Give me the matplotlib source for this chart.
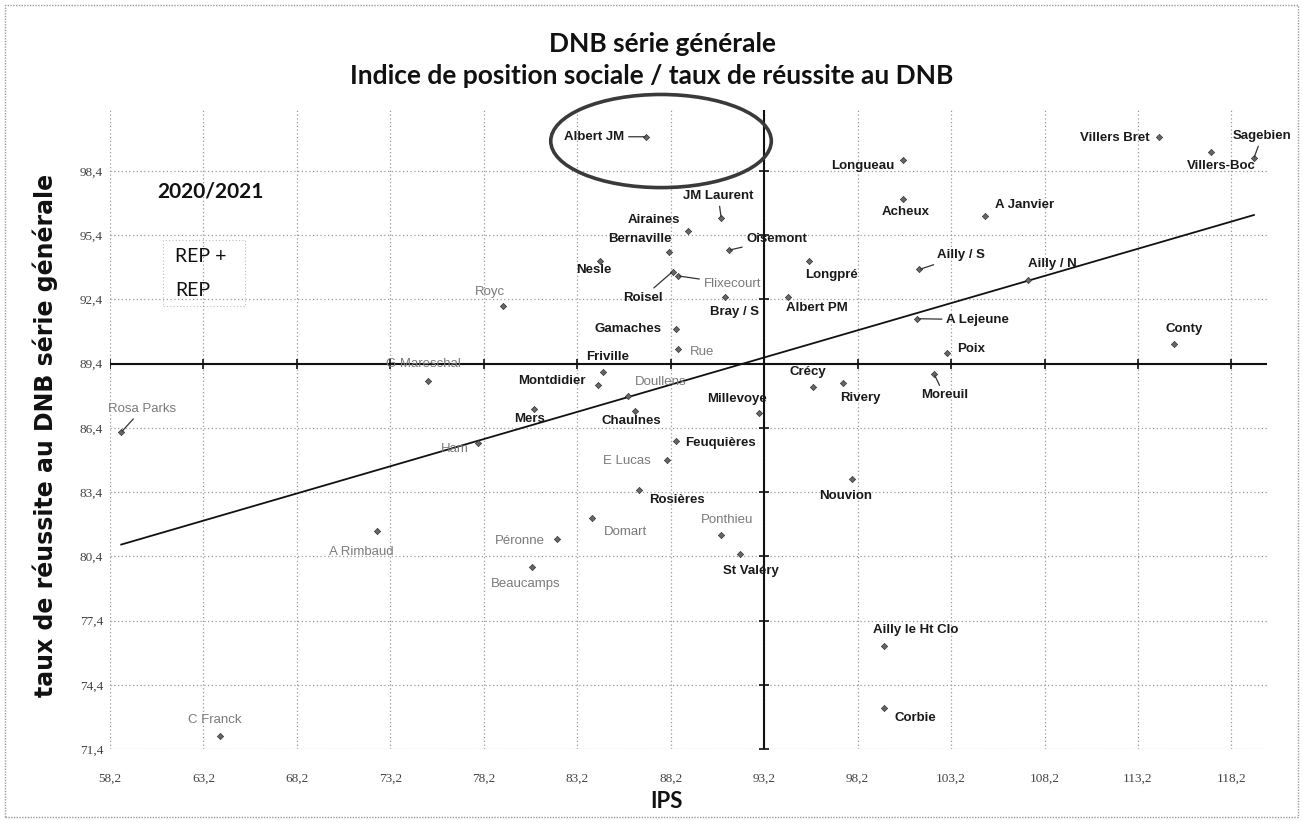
import numpy as np
import matplotlib
matplotlib.use("Agg")
import matplotlib.pyplot as plt
from matplotlib.patches import Ellipse, Rectangle

# ---------------- data ----------------
schools = ["Albert JM", "Villers Bret", "Villers-Boc", "Sagebien", "Longueau", "Acheux",
           "A Janvier", "JM Laurent", "Airaines", "Oisemont", "Bernaville", "Nesle",
           "Longpré", "Ailly / S", "Ailly / N", "Roisel", "Flixecourt", "Bray / S",
           "Albert PM", "Royc", "Gamaches", "Rue", "Friville", "Montdidier", "Doullens",
           "G Mareschal", "Rosa Parks", "Mers", "Chaulnes", "Millevoye", "Ham",
           "Feuquières", "E Lucas", "Rosières", "Domart", "Péronne", "Ponthieu",
           "St Valéry", "Beaucamps", "A Rimbaud", "C Franck", "Crécy", "Rivery",
           "Moreuil", "Poix", "A Lejeune", "Conty", "Nouvion", "Ailly le Ht Clo", "Corbie"]
ips = [86.9, 114.3, 117.1, 119.4, 100.6, 100.6,
       105.0, 90.9, 89.1, 91.3, 88.1, 84.4,
       95.6, 101.5, 107.3, 88.3, 88.6, 91.1,
       94.5, 79.2, 88.5, 88.6, 84.6, 84.3, 85.9,
       75.2, 58.8, 80.9, 86.3, 92.9, 77.9,
       88.5, 88.0, 86.5, 84.0, 82.1, 90.9,
       91.9, 80.8, 72.5, 64.1, 95.8, 97.4,
       102.3, 103.0, 101.4, 115.1, 97.9, 99.6, 99.6]
taux = [100.0, 100.0, 99.3, 99.0, 98.9, 97.1,
        96.3, 96.2, 95.6, 94.7, 94.6, 94.2,
        94.2, 93.8, 93.3, 93.7, 93.5, 92.5,
        92.5, 92.1, 91.0, 90.1, 89.0, 88.4, 87.9,
        88.6, 86.2, 87.3, 87.2, 87.1, 85.7,
        85.8, 84.9, 83.5, 82.2, 81.2, 81.4,
        80.5, 79.9, 81.6, 72.0, 88.3, 88.5,
        88.9, 89.9, 91.5, 90.3, 84.0, 76.2, 73.3]
# schools shown with lighter labels (REP / REP+)
rep_schools = ["Royc", "Rue", "Flixecourt", "Doullens", "G Mareschal", "Rosa Parks", "Ham",
               "E Lucas", "Domart", "Péronne", "Ponthieu", "Beaucamps", "A Rimbaud", "C Franck"]

x_ticks = [58.2, 63.2, 68.2, 73.2, 78.2, 83.2, 88.2, 93.2, 98.2, 103.2, 108.2, 113.2, 118.2]
y_ticks = [71.4, 74.4, 77.4, 80.4, 83.4, 86.4, 89.4, 92.4, 95.4, 98.4]
x_cross = 93.2
y_cross = 89.4

title_lines = ["DNB série générale", "Indice de position sociale / taux de réussite au DNB"]
x_label = "IPS"
y_label = "taux de réussite au DNB série générale"
year_text = "2020/2021"
legend_text = ["REP +", "REP"]

# label offsets in pixels (dx right, dy down) and leader-line flag: style only
label_style = {
    "Albert JM": (-52, 0, True), "Villers Bret": (-44, 1, False), "Villers-Boc": (10, 14, False),
    "Sagebien": (8, -22, True), "Longueau": (-40, 6, False), "Acheux": (3, 13, False),
    "A Janvier": (40, -11, False), "JM Laurent": (-3, -22, True), "Airaines": (-34, -11, False),
    "Oisemont": (48, -11, True), "Bernaville": (-29, -13, False), "Nesle": (-6, 9, False),
    "Longpré": (22, 14, False), "Ailly / S": (42, -14, True), "Ailly / N": (25, -16, False),
    "Roisel": (-30, 26, True), "Flixecourt": (54, 8, True), "Bray / S": (10, 15, False),
    "Albert PM": (28, 11, False), "Royc": (-13, -14, False), "Gamaches": (-48, 0, False),
    "Rue": (24, 3, False), "Friville": (4, -15, False), "Montdidier": (-46, -4, False),
    "Doullens": (33, -14, False), "G Mareschal": (-4, -17, False), "Rosa Parks": (21, -23, True),
    "Mers": (-5, 10, False), "Chaulnes": (-4, 10, False), "Millevoye": (-22, -14, False),
    "Ham": (-23, 6, False), "Feuquières": (44, 2, False), "E Lucas": (-40, 1, False),
    "Rosières": (38, 10, False), "Domart": (33, 14, False), "Péronne": (-37, 2, False),
    "Ponthieu": (6, -15, False), "St Valéry": (11, 17, False), "Beaucamps": (-7, 17, False),
    "A Rimbaud": (-16, 21, False), "C Franck": (-6, -16, False), "Crécy": (-5, -15, False),
    "Rivery": (18, 15, False), "Moreuil": (10, 21, True), "Poix": (24, -4, False),
    "A Lejeune": (60, 1, True), "Conty": (11, -15, False), "Nouvion": (-6, 17, False),
    "Ailly le Ht Clo": (32, -16, False), "Corbie": (32, 10, False),
}

# ---------------- figure ----------------
W, H, DPI = 1303, 822, 100
fig = plt.figure(figsize=(W / DPI, H / DPI), dpi=DPI)
fig.patch.set_facecolor("white")
ax = fig.add_axes([110 / W, 1 - 749 / H, (1267 - 110) / W, (749 - 110) / H])

xmin, xmax = 58.2, 120.1
ymin, ymax = 71.4, 101.25
ax.set_xlim(xmin, xmax)
ax.set_ylim(ymin, ymax)

for s in ax.spines.values():
    s.set_visible(False)
ax.set_xticks(x_ticks)
ax.set_yticks(y_ticks)
ax.set_xticklabels([f"{v:.1f}".replace(".", ",") for v in x_ticks])
ax.set_yticklabels([f"{v:.1f}".replace(".", ",") for v in y_ticks])
ax.tick_params(axis="both", length=0, labelsize=9.5, labelcolor="#444")
ax.tick_params(axis="x", pad=17)
ax.tick_params(axis="y", pad=5)
for lab in ax.get_xticklabels() + ax.get_yticklabels():
    lab.set_fontfamily("Liberation Serif")
ax.grid(True, which="major", linestyle=(0, (1, 2)), color="#999999", linewidth=0.9)
ax.set_axisbelow(True)

# crossing axes
ax.axhline(y_cross, color="#111111", lw=1.5, zorder=2)
ax.axvline(x_cross, color="#111111", lw=1.5, zorder=2)
ax.plot([x_cross] * len(y_ticks), y_ticks, linestyle="none", marker="_", ms=7,
        color="#111111", mew=1.2, zorder=2)
ax.plot(x_ticks, [y_cross] * len(x_ticks), linestyle="none", marker="|", ms=7,
        color="#111111", mew=1.2, zorder=2)

# trendline (linear regression of the data)
xa, ya = np.array(ips), np.array(taux)
a, b = np.polyfit(xa, ya, 1)
xt = np.array([xa.min(), xa.max()])
ax.plot(xt, a * xt + b, color="#111111", lw=1.3, zorder=3)

# points
ax.scatter(ips, taux, marker="D", s=10, color="#666666", edgecolor="#333333",
           linewidth=0.5, zorder=4)

# labels
for name, xv, yv in zip(schools, ips, taux):
    dx, dy, leader = label_style[name]
    rep = name in rep_schools
    kw = dict(fontsize=9.5, fontfamily="Liberation Sans",
              fontweight="normal" if rep else "bold",
              color="#7a7a7a" if rep else "#1a1a1a",
              ha="center", va="center", zorder=5)
    if leader:
        ax.annotate(name, xy=(xv, yv), xytext=(dx * 0.72, -dy * 0.72),
                    textcoords="offset points",
                    arrowprops=dict(arrowstyle="-", color="#333333", lw=0.9,
                                    shrinkA=1, shrinkB=1), **kw)
    else:
        ax.annotate(name, xy=(xv, yv), xytext=(dx * 0.72, -dy * 0.72),
                    textcoords="offset points", **kw)

# ellipse around Albert JM
ax.add_patch(Ellipse((87.68, 99.8), 11.8, 4.35, fill=False, edgecolor="#3a3a3a",
                     lw=2.6, clip_on=False, zorder=6))

# titles and axis labels
fig.text(662 / W, 1 - 44 / H, title_lines[0], ha="center", va="center",
         fontsize=19, fontweight="bold", fontfamily="Lato", color="#111111")
fig.text(652 / W, 1 - 76 / H, title_lines[1], ha="center", va="center",
         fontsize=19, fontweight="bold", fontfamily="Lato", color="#111111")
fig.text(45 / W, 1 - 435 / H, y_label, rotation=90, ha="center", va="center",
         fontsize=17, fontweight="bold", fontfamily="DejaVu Sans", color="#111111")
fig.text(666 / W, 1 - 801 / H, x_label, ha="center", va="center",
         fontsize=16, fontweight="bold", fontfamily="Lato", color="#111111")

# year and REP box
fig.text(210 / W, 1 - 191 / H, year_text, ha="center", va="center",
         fontsize=15, fontweight="bold", fontfamily="Lato", color="#111111")
fig.text(175 / W, 1 - 257 / H, legend_text[0], ha="left", va="center",
         fontsize=14, fontfamily="Lato", color="#111111")
fig.text(175 / W, 1 - 291 / H, legend_text[1], ha="left", va="center",
         fontsize=14, fontfamily="Lato", color="#111111")
fig.add_artist(Rectangle((163 / W, 1 - 306 / H), 82 / W, 66 / H, transform=fig.transFigure,
                         fill=False, edgecolor="#bbbbbb", lw=0.8, linestyle=(0, (1, 2))))

# outer chart border
fig.add_artist(Rectangle((5 / W, 5 / H), (W - 10) / W, (H - 10) / H, transform=fig.transFigure,
                         fill=False, edgecolor="#999999", lw=1.0, linestyle=(0, (1, 1))))

fig.savefig("out.png", dpi=DPI, facecolor="white")
